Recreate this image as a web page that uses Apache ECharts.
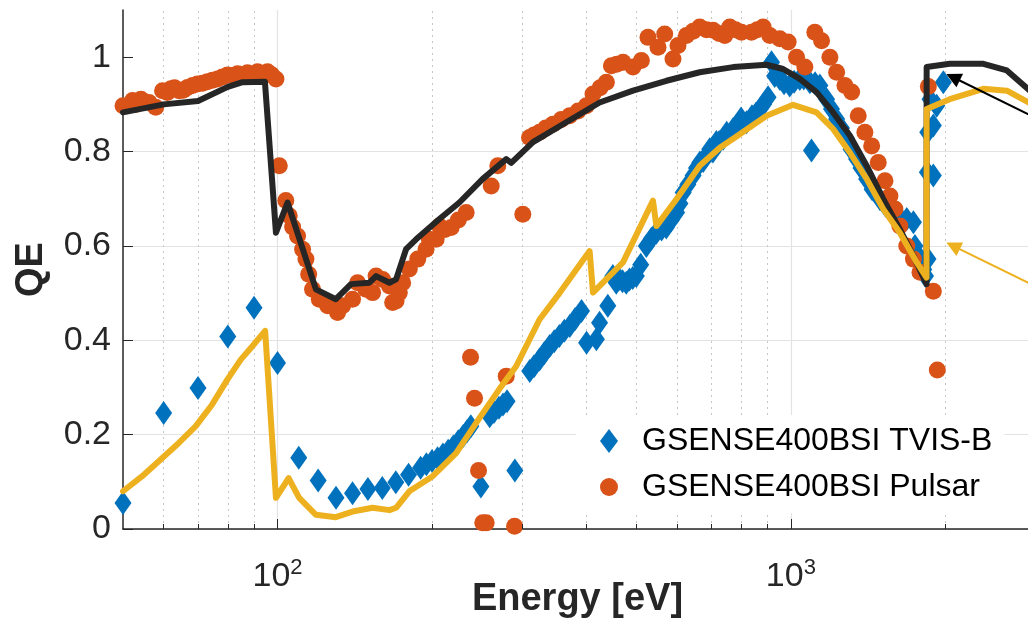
<!DOCTYPE html>
<html>
<head>
<meta charset="utf-8">
<script src="https://cdn.jsdelivr.net/npm/echarts@6/dist/echarts.min.js"></script>
<style>
  html, body { margin: 0; padding: 0; background: #fff; }
  #chart { width: 1028px; height: 622px; }
</style>
</head>
<body>
<div id="chart"></div>
<script>
// measured QE, GSENSE400BSI TVIS-B
const tvisE = [50, 60, 70, 80, 90, 100, 110, 120, 130, 140, 150, 160, 170, 180, 190, 195, 200, 205, 210, 215, 220, 225, 230, 234, 238, 249, 259, 264, 270, 275, 280, 290,
  310, 316, 324, 331, 339, 346, 354, 362, 371, 380, 391, 400, 418, 424, 440, 450, 457, 463, 470, 478, 485, 492, 500, 510, 523, 535, 547, 560, 572, 585, 599, 608,
  617, 630, 645, 655, 665, 675, 685, 695, 705, 716, 725, 738, 750, 772, 790, 800, 820, 840, 855, 870, 885, 903, 917, 930, 952, 970, 995, 1015, 1041, 1060, 1089,
  1097, 1115, 1139, 1174, 1200, 1228, 1255, 1284, 1310, 1343, 1370, 1405, 1440, 1492, 1530, 1583, 1630, 1682, 1733, 1745, 1770, 1799, 1815, 1830, 1850,
  1845, 1895, 1848, 1895, 1867, 1924, 1982]
const tvisQE = [0.055, 0.246, 0.299, 0.408, 0.469, 0.352, 0.151, 0.103, 0.066, 0.076, 0.085, 0.087, 0.099, 0.115, 0.130, 0.137, 0.144, 0.150, 0.158, 0.166, 0.175, 0.186, 0.197, 0.207, 0.218, 0.090, 0.239, 0.248, 0.257, 0.264, 0.271, 0.124,
  0.335, 0.345, 0.359, 0.373, 0.388, 0.398, 0.409, 0.420, 0.430, 0.445, 0.462, 0.395, 0.402, 0.437, 0.473, 0.536, 0.522, 0.530, 0.525, 0.522, 0.529, 0.532, 0.536, 0.560, 0.600, 0.615, 0.628, 0.635, 0.639, 0.655, 0.671, 0.690,
  0.713, 0.730, 0.749, 0.765, 0.777, 0.780, 0.791, 0.805, 0.800, 0.820, 0.820, 0.827, 0.840, 0.848, 0.855, 0.870, 0.862, 0.875, 0.880, 0.890, 0.900, 0.915, 0.989, 0.960, 0.954, 0.945, 0.940, 0.948, 0.954, 0.955, 0.947,
  0.802, 0.945, 0.940, 0.911, 0.890, 0.869, 0.850, 0.827, 0.805, 0.784, 0.765, 0.742, 0.720, 0.699, 0.685, 0.671, 0.660, 0.657, 0.650, 0.600, 0.580, 0.565, 0.550, 0.536, 0.572,
  0.756, 0.749, 0.841, 0.855, 0.911, 0.897, 0.947]

// measured QE, GSENSE400BSI Pulsar
const pulsarE = [50, 52.2, 53, 54.2, 55, 56.2, 57.9, 59.7, 61, 62, 63, 64.3, 65.5, 66.8, 68.3, 69.8, 71.4, 73, 74.7, 76.4, 78.1, 79.9, 81.7, 83.6, 85.5, 87.4, 89.4, 91.4, 93.5, 95.6, 97.4, 99.3,
  100.8, 103.8, 105.4, 107, 109.4, 111.9, 113.6, 115, 117, 120.6, 125.2, 130.9, 133.9, 140, 143.2, 148.7, 153.2, 155.6, 160.3, 165.2, 167.6, 170.2, 172.7, 175.3, 180.6, 187.6, 194.7, 197.6,
  203.7, 206.7, 212, 217.9, 225, 233.1, 237.7, 242, 246.4, 251.1, 255, 260.8, 268.6, 279, 289.6, 300.5, 309.7, 316, 323.9, 333, 343.9, 357, 370.7, 385, 399.6, 411.7, 425, 437.1,
  447.1, 458, 471, 492.6, 511.5, 526.9, 551.1, 567.9, 589.4, 602.8, 626, 645, 664.5, 685, 705.5, 725, 743.5, 760.3, 780, 801.3, 838.1, 860, 883.1, 910, 951.7, 988,
  1025.9, 1064.9, 1113.8, 1147.9, 1191.5, 1228, 1274.7, 1313.7, 1353, 1394, 1437, 1480, 1525.5, 1560, 1595, 1631, 1682, 1733, 1785, 1853, 1895, 1929]
const pulsarQE = [0.897, 0.908, 0.900, 0.911, 0.905, 0.904, 0.894, 0.929, 0.925, 0.933, 0.935, 0.929, 0.930, 0.936, 0.940, 0.943, 0.945, 0.948, 0.951, 0.954, 0.958, 0.962, 0.961, 0.965, 0.963, 0.967, 0.962, 0.969, 0.966, 0.969, 0.963, 0.954,
  0.770, 0.696, 0.664, 0.640, 0.621, 0.593, 0.572, 0.540, 0.508, 0.487, 0.473, 0.459, 0.473, 0.487, 0.522, 0.508, 0.501, 0.536, 0.529, 0.515, 0.480, 0.483, 0.501, 0.522, 0.551, 0.572, 0.593, 0.614,
  0.614, 0.642, 0.635, 0.639, 0.655, 0.671, 0.364, 0.277, 0.124, 0.013, 0.013, 0.727, 0.770, 0.324, 0.006, 0.667, 0.830, 0.835, 0.841, 0.850, 0.858, 0.868, 0.876, 0.886, 0.897, 0.922, 0.935, 0.947,
  0.982, 0.985, 0.989, 0.979, 0.993, 1.042, 1.021, 1.049, 0.996, 1.025, 1.046, 1.055, 1.064, 1.058, 1.057, 1.050, 1.046, 1.064, 1.058, 1.053, 1.053, 1.058, 1.064, 1.046, 1.039, 1.032,
  1.000, 0.979, 1.053, 1.035, 1.000, 0.968, 0.940, 0.926, 0.876, 0.841, 0.812, 0.777, 0.738, 0.706, 0.678, 0.642, 0.600, 0.572, 0.544, 0.938, 0.504, 0.337]

// model curves (black and yellow)
const modelAE = [50, 60, 70, 80, 85.5, 94.5, 99.3, 104.6, 118.8, 129.9, 139, 151, 155.6, 165.2, 170.2, 178, 186.2, 206.7, 226.1, 251.1, 279, 285.3, 314.5, 365.2, 424.1, 492.6, 572.3, 664.5,
  772, 896.8, 966.1, 1041, 1122, 1209, 1303, 1405, 1514, 1631, 1733, 1838, 1839, 2040, 2372, 2635, 2950]
const modelAQE = [0.883, 0.900, 0.907, 0.937, 0.947, 0.948, 0.628, 0.692, 0.508, 0.487, 0.519, 0.522, 0.536, 0.522, 0.529, 0.593, 0.614, 0.657, 0.692, 0.742, 0.784, 0.776, 0.820, 0.862, 0.904, 0.929, 0.950, 0.968,
  0.979, 0.984, 0.975, 0.954, 0.926, 0.883, 0.834, 0.770, 0.699, 0.635, 0.579, 0.519, 0.979, 0.986, 0.986, 0.972, 0.925]
const modelBE = [50, 54.5, 64.3, 69.3, 74.6, 79.9, 84.8, 89.4, 94.6, 99.3, 105.1, 110.2, 118.8, 129.9, 140, 153.2, 165.2, 170.2, 180.6, 189, 200.6, 222.8, 243.8, 270.3, 291.7, 323.9, 354.3, 405.5, 411.7,
  471, 538.8, 547.2, 598.5, 664.5, 727, 772, 897, 1010, 1122, 1209, 1303, 1405, 1514, 1631, 1759, 1838, 1839, 2040, 2372, 2635, 2950]
const modelBQE = [0.080, 0.112, 0.183, 0.218, 0.264, 0.317, 0.359, 0.388, 0.420, 0.066, 0.108, 0.066, 0.030, 0.025, 0.037, 0.045, 0.040, 0.045, 0.080, 0.094, 0.112, 0.161, 0.225, 0.296, 0.345, 0.444, 0.500, 0.589, 0.501,
  0.565, 0.696, 0.642, 0.699, 0.770, 0.808, 0.827, 0.876, 0.899, 0.883, 0.848, 0.798, 0.742, 0.678, 0.628, 0.565, 0.533, 0.890, 0.911, 0.933, 0.929, 0.900]

const yTicks = [0, 0.2, 0.4, 0.6, 0.8, 1]
const minorX = [60, 70, 80, 90, 200, 300, 400, 500, 600, 700, 800, 900, 2000]

const zip = (xs, ys) => xs.map((x, i) => [x, ys[i]])
const font = '"Liberation Sans", Arial, Helvetica, sans-serif'
const dark = '#262626'

let myChart = echarts.init(document.getElementById('chart'))
let option = {
  animation: false,
  textStyle: { fontFamily: font },
  grid: { left: 123, right: -4, top: 10, bottom: 93, outerBoundsMode: 'none', containLabel: false },
  legend: {
    data: ['GSENSE400BSI TVIS-B', 'GSENSE400BSI Pulsar'],
    orient: 'vertical',
    left: 576,
    top: 415,
    padding: [10, 12, 10, 24],
    backgroundColor: '#fff',
    itemWidth: 18,
    itemHeight: 24,
    itemGap: 14,
    textStyle: { fontSize: 32, color: '#000', lineHeight: 32, padding: [0, 0, 0, 19], fontFamily: font }
  },
  xAxis: {
    type: 'log',
    logBase: 10,
    min: 50,
    max: 2950,
    name: 'Energy [eV]',
    nameLocation: 'middle',
    nameGap: 52,
    nameMoveOverlap: false,
    nameTextStyle: { fontSize: 38, fontWeight: 'bold', color: dark, fontFamily: font },
    axisLine: { show: true, lineStyle: { color: dark, width: 1.5 } },
    axisTick: { show: true, inside: true, length: 10, lineStyle: { color: dark, width: 1 } },
    axisLabel: {
      margin: 28,
      showMinLabel: false,
      showMaxLabel: false,
      formatter: (v) => {
        const e = Math.round(Math.log10(v))
        return Math.abs(Math.log10(v) - e) < 1e-6 ? `{b|10}{s|${e}}` : ''
      },
      rich: {
        b: { fontSize: 34, lineHeight: 40, color: dark, fontFamily: font },
        s: { fontSize: 22, lineHeight: 22, color: dark, fontFamily: font, verticalAlign: 'top' }
      }
    },
    splitLine: { show: true, showMinLine: false, showMaxLine: false, lineStyle: { color: '#e3e3e3', width: 1.2 } }
  },
  yAxis: {
    type: 'value',
    min: 0,
    max: 1.1,
    interval: 0.2,
    name: 'QE',
    nameLocation: 'middle',
    nameGap: 72,
    nameMoveOverlap: false,
    nameTextStyle: { fontSize: 38, fontWeight: 'bold', color: dark, fontFamily: font },
    axisLine: { show: true, lineStyle: { color: dark, width: 1.5 } },
    axisTick: { show: true, inside: true, length: 10, customValues: yTicks, lineStyle: { color: dark, width: 1 } },
    axisLabel: {
      margin: 12,
      fontSize: 34,
      color: dark,
      fontFamily: font,
      customValues: yTicks,
      formatter: (v) => (v > 1.05 ? '' : String(+v.toFixed(1)))
    },
    splitLine: { show: true, showMaxLine: false, lineStyle: { color: '#e3e3e3', width: 1.2 } }
  },
  series: [
    {
      // minor grid lines
      name: 'minorGrid',
      type: 'line',
      data: [[100, -1]],
      showSymbol: false,
      silent: true,
      markLine: {
        z: 1,
        silent: true,
        symbol: 'none',
        label: { show: false },
        lineStyle: { color: '#c8c8c8', type: [2, 4], width: 1 },
        data: minorX.map((v) => ({ xAxis: v }))
      }
    },
    {
      name: 'GSENSE400BSI TVIS-B',
      type: 'scatter',
      symbol: 'diamond',
      symbolSize: [17, 24],
      itemStyle: { color: '#0072BD', opacity: 1 },
      data: zip(tvisE, tvisQE)
    },
    {
      name: 'GSENSE400BSI Pulsar',
      type: 'scatter',
      symbol: 'circle',
      symbolSize: 17,
      itemStyle: { color: '#D95319', opacity: 1 },
      data: zip(pulsarE, pulsarQE)
    },
    {
      name: 'modelA',
      type: 'line',
      showSymbol: false,
      data: zip(modelAE, modelAQE),
      lineStyle: { color: dark, width: 6, join: 'round', cap: 'round' },
      markLine: {
        silent: true,
        symbol: ['none', 'triangle'],
        symbolSize: 15,
        label: { show: false },
        lineStyle: { color: '#000', type: 'solid', width: 2 },
        data: [[{ coord: [2950, 0.875] }, { coord: [2070, 0.9575] }]]
      }
    },
    {
      name: 'modelB',
      type: 'line',
      showSymbol: false,
      data: zip(modelBE, modelBQE),
      lineStyle: { color: '#EDB120', width: 6, join: 'round', cap: 'round' },
      markLine: {
        silent: true,
        symbol: ['none', 'triangle'],
        symbolSize: 15,
        label: { show: false },
        lineStyle: { color: '#EDB120', type: 'solid', width: 2 },
        data: [[{ coord: [2950, 0.518] }, { coord: [2070, 0.600] }]]
      }
    },
    {
      // minor ticks along the bottom axis
      name: 'minorTicks',
      type: 'line',
      data: [[100, -1]],
      showSymbol: false,
      silent: true,
      markLine: {
        silent: true,
        symbol: 'none',
        label: { show: false },
        lineStyle: { color: dark, type: 'solid', width: 1 },
        data: minorX.map((v) => [{ coord: [v, 0] }, { coord: [v, 0.0106] }])
      }
    }
  ]
}
myChart.setOption(option)
</script>
</body>
</html>
